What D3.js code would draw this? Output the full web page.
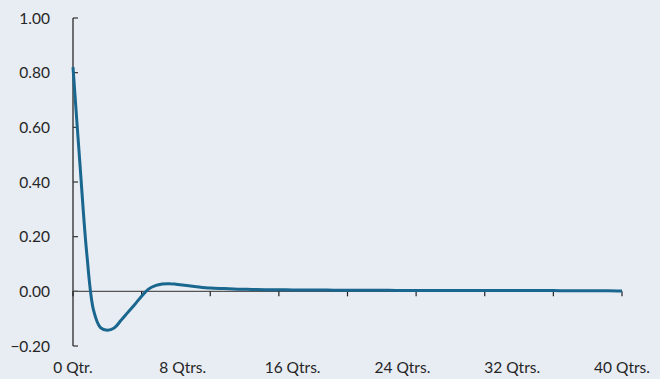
<!DOCTYPE html>
<html>
<head>
<meta charset="utf-8">
<script src="https://cdn.jsdelivr.net/npm/d3@7"></script>
<style>
  html, body { margin: 0; padding: 0; background: #e8ecf3; }
  svg { display: block; }
  .lbl { font-family: Lato, "Open Sans", sans-serif; font-size: 15.5px; fill: #262626; }
</style>
</head>
<body>
<svg id="chart" width="660" height="379"></svg>
<script>
// quarters after the shock (half-quarter steps where the curve moves fast)
const quarters = [
  0, 0.5, 1, 1.5, 2, 2.5, 3, 3.5, 4, 4.5, 5, 5.5, 6, 6.5, 7, 7.5, 8, 9, 10,
  11, 12, 13, 14, 15, 16, 17, 18, 19, 20, 21, 22, 23, 24, 25, 26, 27, 28, 29,
  30, 31, 32, 33, 34, 35, 36, 37, 38, 39, 40
];
const response = [
  0.82, 0.47, 0.14, -0.07, -0.133, -0.142, -0.134, -0.106, -0.077, -0.048,
  -0.018, 0.008, 0.021, 0.027, 0.028, 0.026, 0.023, 0.017, 0.012,
  0.010, 0.008, 0.007, 0.006, 0.006, 0.005, 0.005, 0.005, 0.004, 0.004,
  0.004, 0.004, 0.004, 0.003, 0.003, 0.003, 0.003, 0.003, 0.003, 0.003,
  0.003, 0.003, 0.003, 0.003, 0.003, 0.002, 0.002, 0.002, 0.002, 0.001
];
const yTicks = [-0.2, 0, 0.2, 0.4, 0.6, 0.8, 1.0];
const xTickMarks = [0, 5, 10, 15, 20, 25, 30, 35, 40];
const xLabelQtrs = [0, 8, 16, 24, 32, 40];

const svg = d3.select("#chart");
const margin = { top: 18, right: 38, bottom: 33, left: 73 };
const width = 660, height = 379;

const x = d3.scaleLinear().domain([0, 40]).range([margin.left, width - margin.right]);
const y = d3.scaleLinear().domain([-0.2, 1.0]).range([height - margin.bottom, margin.top]);

// y axis: line with ticks pointing inward
svg.append("line")
  .attr("x1", x(0)).attr("x2", x(0))
  .attr("y1", y(1.0)).attr("y2", y(-0.2))
  .attr("stroke", "#1a1a1a").attr("stroke-width", 1.2);

svg.selectAll(".ytick")
  .data(yTicks)
  .join("line")
  .attr("class", "ytick")
  .attr("x1", x(0)).attr("x2", x(0) + 5)
  .attr("y1", d => y(d)).attr("y2", d => y(d))
  .attr("stroke", "#333").attr("stroke-width", 1.2);

svg.selectAll(".ylabel")
  .data(yTicks)
  .join("text")
  .attr("class", "lbl")
  .attr("x", 50)
  .attr("y", d => y(d))
  .attr("dy", "0.36em")
  .attr("text-anchor", "end")
  .text(d => d3.format(".2f")(d));

// zero line serves as x axis
svg.append("line")
  .attr("x1", x(0)).attr("x2", x(40))
  .attr("y1", y(0)).attr("y2", y(0))
  .attr("stroke", "#555").attr("stroke-width", 1.2);

svg.selectAll(".xtick")
  .data(xTickMarks)
  .join("line")
  .attr("class", "xtick")
  .attr("x1", d => x(d)).attr("x2", d => x(d))
  .attr("y1", y(0)).attr("y2", y(0) + 5)
  .attr("stroke", "#222").attr("stroke-width", 1.2);

svg.selectAll(".xlabel")
  .data(xLabelQtrs)
  .join("text")
  .attr("class", "lbl")
  .attr("x", d => x(d))
  .attr("y", 373)
  .attr("text-anchor", "middle")
  .text(d => d === 0 ? "0 Qtr." : d + " Qtrs.");

// response line
const line = d3.line()
  .x((d, i) => x(quarters[i]))
  .y(d => y(d))
  .curve(d3.curveCatmullRom.alpha(0.5));

svg.append("path")
  .datum(response)
  .attr("d", line)
  .attr("fill", "none")
  .attr("stroke", "#19668f")
  .attr("stroke-width", 3);
</script>
</body>
</html>
